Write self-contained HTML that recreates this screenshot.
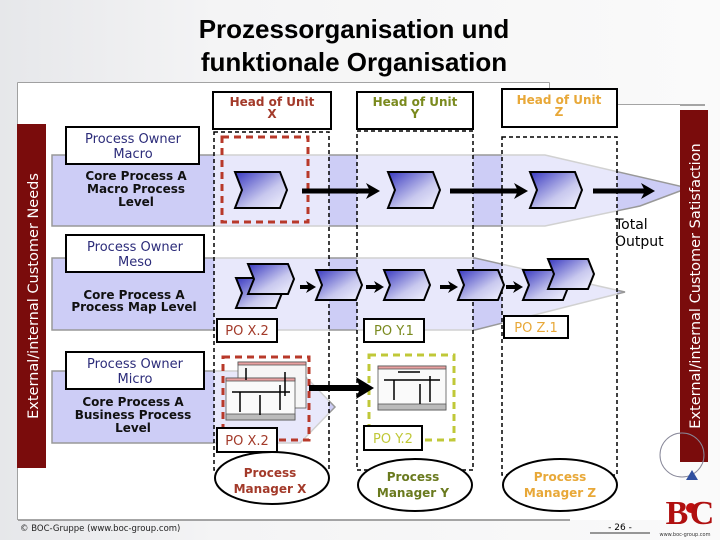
<!DOCTYPE html>
<html><head><meta charset="utf-8"><style>
body{margin:0;width:720px;height:540px;overflow:hidden;background:linear-gradient(90deg,#e6e7ea,#f4f4f5 30%,#fafafa);}
svg{display:block}
text{font-family:"DejaVu Sans","Liberation Sans",sans-serif;}
</style></head><body>
<svg width="720" height="540" viewBox="0 0 720 540" xmlns="http://www.w3.org/2000/svg">
<defs>
<linearGradient id="cg" x1="0" y1="0" x2="1" y2="1"><stop offset="0" stop-color="#3838c0"/><stop offset="0.6" stop-color="#c8c8ee"/><stop offset="1" stop-color="#f4f4ff"/></linearGradient>
<g id="chev"><path d="M0,0 H45 L52,18 L45,36 H0 L7,18 Z" fill="url(#cg)" stroke="#000" stroke-width="2"/></g>
<g id="chs"><path d="M0,0 H40 L46,15 L40,30 H0 L6,15 Z" fill="url(#cg)" stroke="#000" stroke-width="2"/></g>
<path id="hd" d="M-14,-8 L0,0 L-14,8 L-10,0 Z" fill="#000"/>
<path id="hs" d="M-10,-6 L0,0 L-10,6 L-7,0 Z" fill="#000"/>
</defs>
<text x="354" y="38" font-size="26" font-weight="bold" text-anchor="middle" style="font-family:'Liberation Sans',sans-serif">Prozessorganisation und</text>
<text x="354" y="71" font-size="26" font-weight="bold" text-anchor="middle" style="font-family:'Liberation Sans',sans-serif">funktionale Organisation</text>
<path d="M18,520 V83 H549 V105 H705" fill="none" stroke="#888" stroke-width="1.5"/>
<rect x="18" y="83" width="531" height="437" fill="#fff"/>
<rect x="549" y="105" width="131" height="415" fill="#fff"/>
<line x1="18" y1="520" x2="570" y2="520" stroke="#888" stroke-width="1.5"/>
<path d="M52,155 H545 L688,188 L640,206 L545,226 H52 Z" fill="#cdcdf6" stroke="#999" stroke-width="1.5"/>
<path d="M52,258 H475 L625,292 L475,330 H52 Z" fill="#cdcdf6" stroke="#999" stroke-width="1.5"/>
<path d="M52,371 H300 L335,407 L300,443 H52 Z" fill="#cdcdf6" stroke="#999" stroke-width="1.5"/>
<rect x="214" y="132" width="115" height="338" fill="#fff" fill-opacity="0.55"/>
<rect x="357" y="131" width="116" height="339" fill="#fff" fill-opacity="0.55"/>
<rect x="502" y="137" width="115" height="338" fill="#fff" fill-opacity="0.55"/>
<g fill="none" stroke="#000" stroke-width="1.5" stroke-dasharray="4,3">
<rect x="214" y="132" width="115" height="338"/>
<rect x="357" y="131" width="116" height="339"/>
<rect x="502" y="137" width="115" height="338"/>
</g>
<g stroke="#000" stroke-width="2" fill="#fff">
<rect x="213" y="92" width="118" height="37"/><rect x="357" y="92" width="116" height="37"/><rect x="502" y="89" width="115" height="38"/>
</g>
<g font-size="12" font-weight="bold" text-anchor="middle">
<text x="272" y="106" fill="#a33a2a">Head of Unit</text><text x="272" y="118" fill="#a33a2a">X</text>
<text x="415" y="106" fill="#7a8a1e">Head of Unit</text><text x="415" y="118" fill="#7a8a1e">Y</text>
<text x="559" y="104" fill="#e8a838">Head of Unit</text><text x="559" y="116" fill="#e8a838">Z</text>
</g>
<rect x="17" y="124" width="29" height="344" fill="#7a0c0c"/>
<text transform="translate(38,296) rotate(-90)" font-size="14.5" fill="#fff" text-anchor="middle">External/internal  Customer Needs</text>
<rect x="680" y="110" width="28" height="352" fill="#7a0c0c"/>
<text transform="translate(700,286) rotate(-90)" font-size="14.5" fill="#fff" text-anchor="middle">External/internal  Customer Satisfaction</text>
<g stroke="#000" stroke-width="2" fill="#fff">
<rect x="66" y="127" width="133" height="37"/><rect x="66" y="235" width="138" height="37"/><rect x="66" y="352" width="138" height="37"/>
</g>
<g font-size="13" fill="#2c2c7a" text-anchor="middle">
<text x="133" y="143">Process Owner</text><text x="133" y="158">Macro</text>
<text x="135" y="251">Process Owner</text><text x="135" y="266">Meso</text>
<text x="135" y="368">Process Owner</text><text x="135" y="383">Micro</text>
</g>
<g font-size="12" font-weight="bold" text-anchor="middle" fill="#111">
<text x="136" y="180">Core Process A</text><text x="136" y="193">Macro Process</text><text x="136" y="206">Level</text>
<text x="134" y="299">Core Process A</text><text x="134" y="311">Process Map Level</text>
<text x="133" y="406">Core Process A</text><text x="133" y="419">Business Process</text><text x="133" y="432">Level</text>
</g>
<rect x="222" y="137" width="86" height="85" fill="none" stroke="#b8392a" stroke-width="3" stroke-dasharray="7,5"/>
<use href="#chev" x="235" y="172"/><use href="#chev" x="388" y="172"/><use href="#chev" x="530" y="172"/>
<g stroke="#000" stroke-width="5">
<line x1="302" y1="191" x2="370" y2="191"/><line x1="450" y1="191" x2="518" y2="191"/><line x1="593" y1="191" x2="645" y2="191"/>
</g>
<use href="#hd" x="380" y="191"/><use href="#hd" x="528" y="191"/><use href="#hd" x="655" y="191"/>
<text x="615" y="229" font-size="14">Total</text><text x="615" y="246" font-size="14">Output</text>
<use href="#chs" x="236" y="278"/><use href="#chs" x="248" y="264"/>
<use href="#chs" x="316" y="270"/><use href="#chs" x="384" y="270"/>
<use href="#chs" x="458" y="270"/><use href="#chs" x="523" y="270"/><use href="#chs" x="548" y="259"/>
<g stroke="#000" stroke-width="4">
<line x1="300" y1="287" x2="310" y2="287"/><line x1="366" y1="287" x2="378" y2="287"/><line x1="440" y1="287" x2="452" y2="287"/><line x1="506" y1="287" x2="517" y2="287"/>
</g>
<use href="#hs" x="316" y="287"/><use href="#hs" x="384" y="287"/><use href="#hs" x="458" y="287"/><use href="#hs" x="523" y="287"/>
<g stroke="#000" stroke-width="2" fill="#fff">
<rect x="217" y="319" width="60" height="23"/><rect x="364" y="319" width="60" height="23"/><rect x="504" y="316" width="64" height="22"/>
</g>
<g font-size="13" text-anchor="middle">
<text x="247" y="335" fill="#a33a2a">PO X.2</text><text x="394" y="335" fill="#7a8a1e">PO Y.1</text><text x="536" y="332" fill="#e8a838">PO Z.1</text>
</g>
<rect x="223" y="357" width="86" height="83" fill="none" stroke="#b8392a" stroke-width="3" stroke-dasharray="7,5"/>
<rect x="369" y="355" width="85" height="85" fill="none" stroke="#c0c838" stroke-width="3" stroke-dasharray="7,5"/>
<g stroke="#555" stroke-width="0.8">
<rect x="238" y="362" width="68" height="46" fill="#f6f6f6"/><rect x="238" y="362" width="68" height="3" fill="#e8a0a0"/>
<rect x="226" y="378" width="69" height="42" fill="#fafafa"/><rect x="226" y="378" width="69" height="3" fill="#e8a0a0"/><rect x="226" y="414" width="69" height="6" fill="#bbb"/>
<rect x="378" y="366" width="68" height="44" fill="#fafafa"/><rect x="378" y="366" width="68" height="3" fill="#e8a0a0"/><rect x="378" y="404" width="68" height="6" fill="#bbb"/>
</g>
<g stroke="#000" stroke-width="1.5" fill="none">
<path d="M232,392 H290 M240,392 V412 M260,395 V415 M280,385 V410 M246,368 V380 M285,372 V396"/>
<path d="M384,380 H440 M394,380 V400 M420,384 V404 M430,376 V402 M398,372 H420"/>
</g>
<line x1="309" y1="388" x2="360" y2="388" stroke="#000" stroke-width="6"/>
<path d="M356,377 L374,388 L356,399 L360,388 Z" fill="#000"/>
<g stroke="#000" stroke-width="2" fill="#fff">
<rect x="217" y="428" width="60" height="24"/><rect x="364" y="426" width="58" height="24"/>
</g>
<text x="247" y="445" font-size="13" text-anchor="middle" fill="#a33a2a">PO X.2</text>
<text x="393" y="443" font-size="13" text-anchor="middle" fill="#c0c838">PO Y.2</text>
<g stroke="#000" stroke-width="2" fill="#fff">
<ellipse cx="272" cy="478" rx="57" ry="26"/><ellipse cx="415" cy="485" rx="57" ry="26"/><ellipse cx="560" cy="485" rx="57" ry="26"/>
</g>
<g font-size="12" font-weight="bold" text-anchor="middle">
<text x="270" y="477" fill="#a33a2a">Process</text><text x="270" y="493" fill="#a33a2a">Manager X</text>
<text x="413" y="481" fill="#6a7a1e">Process</text><text x="413" y="497" fill="#6a7a1e">Manager Y</text>
<text x="560" y="481" fill="#e8a838">Process</text><text x="560" y="497" fill="#e8a838">Manager Z</text>
</g>
<text x="20" y="531" font-size="8.5" fill="#222">© BOC-Gruppe (www.boc-group.com)</text>
<line x1="590" y1="533" x2="650" y2="533" stroke="#333"/>
<text x="620" y="530" font-size="9" text-anchor="middle">- 26 -</text>
<circle cx="682" cy="455" r="22" fill="none" stroke="#889" stroke-width="1"/>
<text x="677" y="524" font-size="34" font-weight="bold" fill="#b01010" text-anchor="middle" style="font-family:'Liberation Serif',serif">B</text>
<circle cx="691" cy="508" r="5" fill="#c01010"/>
<text x="702" y="524" font-size="34" font-weight="bold" fill="#b01010" text-anchor="middle" style="font-family:'Liberation Serif',serif">C</text>
<path d="M686,480 L692,470 L698,480z" fill="#3050a0"/>
<text x="685" y="536" font-size="5" fill="#333" text-anchor="middle">www.boc-group.com</text>
</svg>
</body></html>
